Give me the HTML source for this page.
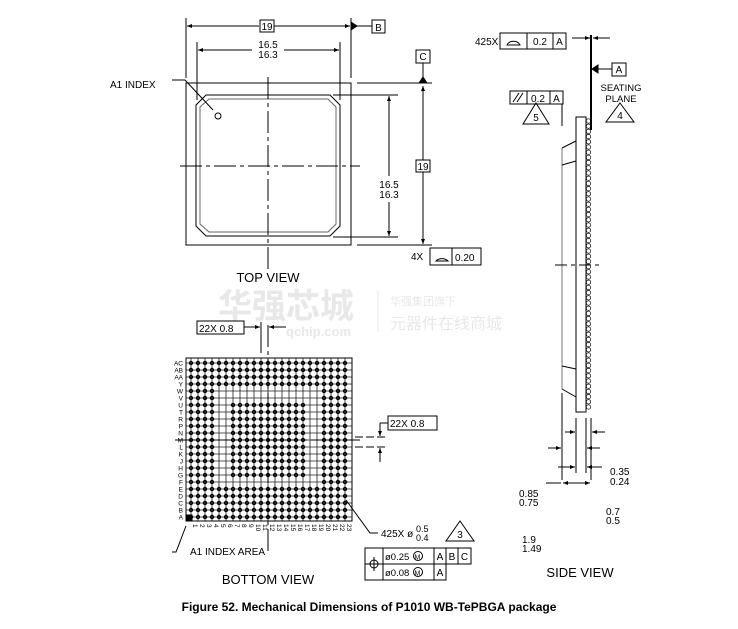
<!DOCTYPE html>
<html><head><meta charset="utf-8"><style>
body{margin:0;background:#fff;}
svg{display:block;font-family:"Liberation Sans",sans-serif;}
</style></head><body>
<svg id="s" width="738" height="629" viewBox="0 0 738 629" xmlns="http://www.w3.org/2000/svg">
<defs>
<marker id="a" viewBox="0 0 10 10" refX="10" refY="5" markerWidth="7" markerHeight="5" orient="auto-start-reverse"><path d="M0,1 L10,5 L0,9z" fill="#000"/></marker>
</defs>
<g fill="#e8e8e8" font-family="'Noto Sans CJK SC',sans-serif">
<text x="218" y="318" font-size="34" font-weight="bold">华强芯城</text>
<text x="286" y="336" font-size="13" font-weight="bold" font-family="'Liberation Sans',sans-serif">qchip.com</text>
<text x="390" y="305" font-size="11">华强集团旗下</text>
<text x="390" y="329" font-size="16">元器件在线商城</text>
</g>
<line x1="378" y1="290" x2="378" y2="332" stroke="#e8e8e8"/>

<g stroke="#000" stroke-width="1" fill="none">
<rect x="186" y="83" width="165" height="162"/>
<path d="M206,95 L330,95 L340,105 L340,226 L330,236 L206,236 L196,226 L196,105 Z"/>
<path d="M209,99 L328,99 L336,107 L336,224 L328,232 L209,232 L200,224 L200,107 Z" stroke="#666"/>
<circle cx="218" cy="116" r="3"/>
<line x1="268" y1="77" x2="268" y2="270" stroke-dasharray="22,4,4,4"/>
<line x1="180" y1="166" x2="360" y2="166" stroke-dasharray="22,4,4,4"/>
<line x1="186" y1="18" x2="186" y2="78"/><line x1="351" y1="18" x2="351" y2="78"/>
<line x1="187" y1="26" x2="259" y2="26" marker-start="url(#a)"/><line x1="274" y1="26" x2="350" y2="26" marker-end="url(#a)"/>
<line x1="352" y1="26" x2="372" y2="26"/><path d="M351,22 L357,26 L351,30Z" fill="#000"/>
<line x1="197" y1="42" x2="197" y2="100"/><line x1="340" y1="42" x2="340" y2="100"/>
<line x1="198" y1="50" x2="252" y2="50" marker-start="url(#a)"/><line x1="284" y1="50" x2="339" y2="50" marker-end="url(#a)"/>
<line x1="333" y1="95" x2="398" y2="95"/><line x1="333" y1="237" x2="398" y2="237"/>
<line x1="389" y1="96" x2="389" y2="176" marker-start="url(#a)"/><line x1="389" y1="202" x2="389" y2="236" marker-end="url(#a)"/>
<line x1="357" y1="83" x2="432" y2="83"/><line x1="357" y1="245" x2="432" y2="245"/>
<line x1="423" y1="86" x2="423" y2="160" marker-start="url(#a)"/><line x1="423" y1="172" x2="423" y2="244" marker-end="url(#a)"/>
<line x1="423" y1="63" x2="423" y2="80"/><path d="M419,83 L423,77 L427,83Z" fill="#000"/>
<rect x="260" y="20" width="14" height="12"/><rect x="372" y="20" width="13" height="13"/>
<rect x="416" y="50" width="14" height="13"/><rect x="416" y="160" width="14" height="12"/>
<rect x="430" y="248" width="51" height="17"/><line x1="452" y1="248" x2="452" y2="265"/>
<path d="M436,261 A8,7 0 0 1 448,261 Z"/>
<polyline points="172,80 185,80 213,110"/>

<g id="grid"></g>
<rect x="186" y="358" width="166" height="163"/>
<line x1="268" y1="325" x2="268" y2="555" stroke-dasharray="22,4,4,4"/>
<line x1="175" y1="440" x2="360" y2="440" stroke-dasharray="22,4,4,4"/>
<line x1="261" y1="322" x2="261" y2="353"/><line x1="244" y1="327" x2="260" y2="327" marker-end="url(#a)"/>
<line x1="286" y1="327" x2="269" y2="327" marker-end="url(#a)"/>
<rect x="197" y="321" width="47" height="13"/>
<line x1="355" y1="437" x2="388" y2="437" stroke-dasharray="8,3"/><line x1="355" y1="447" x2="388" y2="447" stroke-dasharray="8,3"/>
<line x1="380" y1="423" x2="380" y2="436" marker-end="url(#a)"/><line x1="380" y1="462" x2="380" y2="448" marker-end="url(#a)"/>
<polyline points="380,423 380,423 388,423"/>
<rect x="388" y="416" width="49" height="14"/>
<polyline points="346,500 370,533 378,533"/>
<path d="M460,521 L474,541 L446,541Z"/>
<polyline points="172,552 176,552 186,526"/>
<rect x="365" y="548" width="106" height="16"/><rect x="365" y="564" width="81" height="16"/>
<line x1="383" y1="548" x2="383" y2="580"/><line x1="434" y1="548" x2="434" y2="580"/>
<line x1="446" y1="548" x2="446" y2="564"/><line x1="458" y1="548" x2="458" y2="564"/>
<circle cx="374" cy="564" r="4"/><line x1="374" y1="557" x2="374" y2="571"/><line x1="367" y1="564" x2="381" y2="564"/>
<circle cx="418" cy="556" r="4.5"/><circle cx="418" cy="572" r="4.5"/>

<line x1="591" y1="35" x2="591" y2="130" stroke-width="2"/>
<rect x="500" y="33" width="66" height="16"/><line x1="527" y1="33" x2="527" y2="49"/><line x1="553" y1="33" x2="553" y2="49"/>
<path d="M507,45 A7,6 0 0 1 520,45 Z"/>
<line x1="572" y1="38" x2="590" y2="38" marker-end="url(#a)"/><line x1="610" y1="38" x2="593" y2="38" marker-end="url(#a)"/>
<rect x="612" y="63" width="14" height="13"/><line x1="597" y1="69" x2="612" y2="69"/><path d="M592,69 L598,65 L598,73Z" fill="#000"/>
<path d="M620,103 L634,122 L606,122Z"/>
<rect x="510" y="91" width="53" height="13"/><line x1="527" y1="91" x2="527" y2="104"/><line x1="550" y1="91" x2="550" y2="104"/>
<line x1="513" y1="102" x2="519" y2="93"/><line x1="517" y1="102" x2="523" y2="93"/>
<line x1="562" y1="104" x2="562" y2="126"/>
<path d="M536,103 L549,124 L523,124Z"/>
<rect x="576" y="117" width="10" height="295"/>
<line x1="562" y1="148" x2="562" y2="389" stroke="#777"/>
<line x1="562" y1="148" x2="576" y2="141"/><line x1="562" y1="165" x2="576" y2="161"/>
<line x1="562" y1="366" x2="576" y2="369"/><line x1="562" y1="389" x2="576" y2="397"/>
<line x1="555" y1="265" x2="600" y2="265" stroke-dasharray="12,4,4,4"/>
<g id="side"></g>
<line x1="562" y1="393" x2="562" y2="480"/><line x1="576" y1="418" x2="576" y2="473"/>
<line x1="586" y1="418" x2="586" y2="473"/><line x1="591" y1="418" x2="591" y2="480"/>
<line x1="565" y1="432" x2="575" y2="432" marker-end="url(#a)"/><line x1="605" y1="432" x2="592" y2="432" marker-end="url(#a)"/>
<line x1="548" y1="448" x2="561" y2="448" marker-end="url(#a)"/><line x1="600" y1="448" x2="587" y2="448" marker-end="url(#a)"/>
<line x1="558" y1="467" x2="575" y2="467" marker-end="url(#a)"/><line x1="602" y1="467" x2="587" y2="467" marker-end="url(#a)"/>
<line x1="546" y1="483" x2="561" y2="483"/><line x1="563" y1="483" x2="590" y2="483" marker-start="url(#a)" marker-end="url(#a)"/>
</g>

<g font-size="10" fill="#000">
<text x="110" y="88">A1 INDEX</text>
<text x="267" y="30" text-anchor="middle">19</text>
<text x="378.5" y="31" text-anchor="middle">B</text>
<text x="268" y="48" text-anchor="middle">16.5</text><text x="268" y="58" text-anchor="middle">16.3</text>
<rect x="376" y="176" width="26" height="26" fill="#fff"/>
<text x="389" y="188" text-anchor="middle">16.5</text><text x="389" y="198" text-anchor="middle">16.3</text>
<text x="423" y="60" text-anchor="middle">C</text>
<text x="423" y="170" text-anchor="middle">19</text>
<text x="411" y="260">4X</text><text x="455" y="261">0.20</text>
<text x="268" y="282" text-anchor="middle" font-size="13">TOP VIEW</text>
<text x="199" y="332">22X 0.8</text>
<text x="390" y="427">22X 0.8</text>
<text x="381" y="537">425X ø</text><text x="416" y="532" font-size="9">0.5</text><text x="416" y="541" font-size="9">0.4</text>
<text x="460" y="538" text-anchor="middle">3</text>
<text x="385" y="560" font-size="9.5">ø0.25</text><text x="414.5" y="559.5" font-size="7">M</text>
<text x="440" y="560" text-anchor="middle">A</text><text x="452" y="560" text-anchor="middle">B</text><text x="464.5" y="560" text-anchor="middle">C</text>
<text x="385" y="576" font-size="9.5">ø0.08</text><text x="414.5" y="575.5" font-size="7">M</text>
<text x="440" y="576" text-anchor="middle">A</text>
<text x="190" y="555">A1 INDEX AREA</text>
<text x="268" y="584" text-anchor="middle" font-size="13">BOTTOM VIEW</text>
<text x="475" y="45">425X</text><text x="540" y="45" text-anchor="middle">0.2</text><text x="559.5" y="45" text-anchor="middle">A</text>
<text x="619" y="73" text-anchor="middle">A</text>
<text x="621" y="91" text-anchor="middle" font-size="9.5">SEATING</text><text x="621" y="102" text-anchor="middle" font-size="9.5">PLANE</text>
<text x="620" y="119" text-anchor="middle">4</text>
<text x="538" y="102" text-anchor="middle">0.2</text><text x="556.5" y="102" text-anchor="middle">A</text>
<text x="536" y="121" text-anchor="middle">5</text>
<text x="610" y="475">0.35</text><text x="610" y="485">0.24</text>
<text x="519" y="497">0.85</text><text x="519" y="506">0.75</text>
<text x="606" y="515">0.7</text><text x="606" y="524">0.5</text>
<text x="522" y="543">1.9</text><text x="522" y="552">1.49</text>
<text x="580" y="577" text-anchor="middle" font-size="13">SIDE VIEW</text>
<text x="369" y="611" text-anchor="middle" font-size="12" font-weight="bold">Figure 52. Mechanical Dimensions of P1010 WB-TePBGA package</text>
</g>
<g id="lbl" font-size="6.5" fill="#000"></g>
</svg>
<script>
var NS="http://www.w3.org/2000/svg";
function el(p,t,a,tx){var e=document.createElementNS(NS,t);for(var k in a)e.setAttribute(k,a[k]);if(tx)e.textContent=tx;p.appendChild(e);return e;}
var g=document.getElementById("grid"),L=document.getElementById("lbl"),S=document.getElementById("side");
var x0=191,y0=363,p=7.0;
for(var i=0;i<23;i++){
 el(g,"line",{x1:186,y1:y0+i*p,x2:352,y2:y0+i*p,stroke:"#222","stroke-width":0.8});
 el(g,"line",{x1:x0+i*p,y1:358,x2:x0+i*p,y2:521,stroke:"#222","stroke-width":0.8});
}
for(var r=0;r<23;r++)for(var c=0;c<23;c++){
 var outer=(r<4||r>17||c<4||c>18);
 var inner=(r>=6&&r<=16&&c>=6&&c<=16);
 if(outer||inner) el(g,"circle",{cx:x0+c*p,cy:y0+r*p,r:1.7,fill:"#222"});
}
el(g,"rect",{x:186,y:515,width:6,height:6,fill:"#000"});
var rows=["AC","AB","AA","Y","W","V","U","T","R","P","N","M","L","K","J","H","G","F","E","D","C","B","A"];
for(var r=0;r<23;r++)el(L,"text",{x:183,y:y0+r*p+2.3,"text-anchor":"end"},rows[r]);
for(var c=0;c<23;c++){var x=x0+c*p+2,y=524;el(L,"text",{x:x,y:y,transform:"rotate(90 "+x+" "+y+")"},String(c+1));}
for(var y=121;y<410;y+=5.2){el(S,"circle",{cx:588.5,cy:y,r:2.2,fill:"none",stroke:"#000","stroke-width":0.7});}
</script>
</body></html>
